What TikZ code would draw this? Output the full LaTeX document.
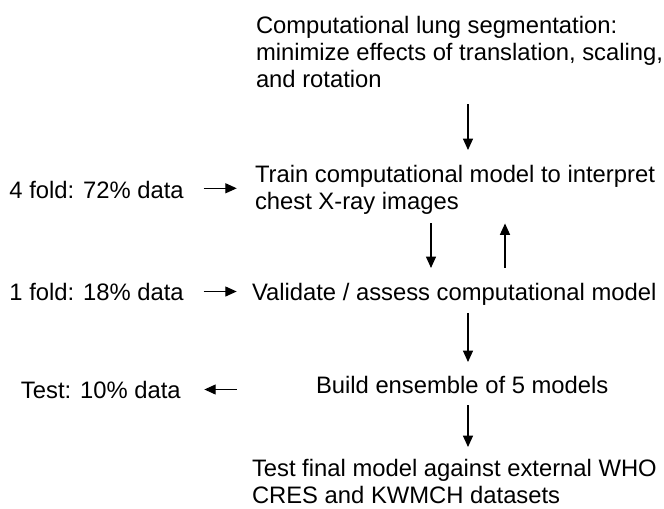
\documentclass[tikz,border=0pt]{standalone}
\usepackage{fontspec}
\setmainfont{Liberation Sans}
\usetikzlibrary{arrows.meta}

\begin{document}
\begin{tikzpicture}[x=0.75pt, y=-0.75pt,
  txt/.style={inner sep=0pt, outer sep=0pt, align=left,
    font=\fontsize{17.85pt}{20.25pt}\selectfont},
  arr/.style={-{Triangle[length=8.5pt,width=7.5pt]}, line width=0.8pt}]

  % canvas
  \fill[white] (0,0) rectangle (664,508);
  \useasboundingbox (0,0) rectangle (664,508);

  % column positions of the vertical arrows
  \coordinate (colA) at (468,0);
  \coordinate (colB) at (431,0);
  \coordinate (colC) at (505,0);

  % main pipeline
  \node[txt, anchor=north west] (seg) at (256,15.8)
    {Computational lung segmentation:\\minimize effects of translation, scaling,\\and rotation};
  \node[txt, anchor=north west] (train) at (255,164.8)
    {Train computational model to interpret\\chest X-ray images};
  \node[txt, anchor=base west] (valid) at (252,300)
    {Validate / assess computational model};
  \node[txt, anchor=base west] (build) at (316,393.5)
    {Build ensemble of 5 models};
  \node[txt, anchor=north west] (final) at (252,459)
    {Test final model against external WHO\\CRES and KWMCH datasets};

  % data splits
  \node[txt, anchor=base west] (fold4) at (9.5,198) {4 fold: 72\% data};
  \node[txt, anchor=base west] (fold1) at (9.5,300) {1 fold: 18\% data};
  \node[txt, anchor=base west] (test) at (21,398) {Test: 10\% data};

  % vertical flow
  \draw[arr, shorten <=12.75pt, shorten >=11.1pt] (seg.south -| colA) -- (train.north -| colA);
  \draw[arr, shorten <=7.1pt, shorten >=11.1pt] (train.south -| colB) -- (valid.north -| colB);
  \draw[arr, shorten <=11.1pt, shorten >=7.1pt] (valid.north -| colC) -- (train.south -| colC);
  \draw[arr, shorten <=6pt, shorten >=10.7pt] (valid.south -| colA) -- (build.north -| colA);
  \draw[arr, shorten <=8.6pt, shorten >=9pt] (build.south -| colA) -- (final.north -| colA);

  % data inputs and held-out test split
  \draw[arr, shorten <=15pt, shorten >=13.7pt] ([yshift=0.9pt]fold4.east) -- ([yshift=0.9pt]fold4.east -| train.west);
  \draw[arr, shorten <=15pt, shorten >=11.5pt] (fold1.east) -- (fold1.east -| valid.west);
  \draw[arr, shorten <=59.5pt, shorten >=17.8pt] (test.east -| build.west) -- (test.east);
\end{tikzpicture}
\end{document}
